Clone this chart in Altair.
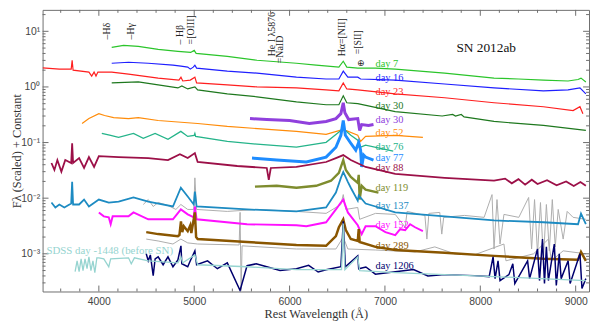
import altair as alt
import pandas as pd

# ---------------- spectra: rest wavelength (Å) and scaled flux ----------------
wl_d7 = [4135, 4259, 4414, 4622, 4829, 4963, 5000, 5020, 5347, 5658, 6072, 6279, 6517, 6563, 6600, 6715, 6901, 7108, 7626, 8144, 8400, 8662, 8920, 9025, 9056, 9107]
fx_d7 = [5.13, 5.57, 5.35, 4.73, 4.36, 4.18, 4.54, 4.01, 3.55, 3.02, 2.67, 2.46, 2.27, 2.90, 2.27, 2.18, 2.18, 2.09, 1.77, 1.44, 1.39, 1.33, 1.28, 1.36, 1.44, 1.23]

wl_d16 = [4135, 4311, 4518, 4777, 4861, 4932, 4959, 4990, 5007, 5025, 5347, 5658, 6072, 6383, 6517, 6563, 6611, 6715, 6745, 7108, 7626, 8144, 8662, 8920, 9045, 9107]
fx_d16 = [2.67, 2.78, 2.67, 2.46, 2.36, 2.27, 2.09, 2.27, 2.46, 2.18, 1.92, 1.77, 1.50, 1.39, 1.39, 1.92, 1.50, 1.50, 1.39, 1.33, 1.13, 0.96, 0.849, 0.885, 0.96, 0.75]

wl_d23 = [3410, 3586, 3710, 3720, 3730, 3896, 3925, 3950, 3970, 3990, 4135, 4311, 4622, 4840, 4861, 4880, 4959, 5007, 5025, 5347, 5658, 6072, 6383, 6517, 6563, 6600, 6715, 7108, 7626, 8144, 8662, 8973, 9045, 9076]
fx_d23 = [2.20, 2.09, 2.09, 3.02, 2.00, 1.85, 1.57, 1.85, 1.57, 1.85, 1.85, 1.70, 1.44, 1.33, 1.50, 1.28, 1.33, 1.50, 1.18, 1.09, 1.00, 0.96, 0.885, 0.849, 1.18, 0.921, 0.885, 0.751, 0.64, 0.52, 0.441, 0.375, 0.441, 0.331]

wl_d30 = [4135, 4414, 4622, 4829, 4870, 4932, 5007, 5036, 5347, 5658, 6072, 6383, 6517, 6563, 6600, 6715, 7108, 7600, 7710, 7740, 7800, 7830, 8144, 8662, 9107]
fx_d30 = [1.18, 1.23, 1.09, 0.96, 1.04, 0.921, 1.00, 0.885, 0.751, 0.665, 0.54, 0.479, 0.479, 0.692, 0.52, 0.50, 0.36, 0.30, 0.32, 0.30, 0.32, 0.29, 0.24, 0.203, 0.165]

wl_d30b = [5585, 5761, 6000, 6207, 6383, 6486, 6538, 6563, 6580, 6620, 6715, 6735, 6756, 6828, 6880]
fx_d30b = [0.270, 0.259, 0.249, 0.220, 0.239, 0.270, 0.331, 0.52, 0.344, 0.259, 0.270, 0.165, 0.211, 0.203, 0.211]

wl_d52 = [3824, 3896, 4000, 4060, 4155, 4311, 4414, 4622, 5036, 5347, 6072, 6383, 6563, 6715, 6745, 6797, 7108, 7398]
fx_d52 = [0.220, 0.270, 0.331, 0.306, 0.281, 0.270, 0.281, 0.249, 0.220, 0.195, 0.159, 0.140, 0.172, 0.135, 0.105, 0.129, 0.135, 0.124]

wl_d76 = [4031, 4124, 4207, 4363, 4466, 4590, 4725, 4860, 4932, 5000, 5007, 5015, 5347, 5658, 6072, 6383, 6486, 6563, 6642, 6715, 6745, 6797, 7087]
fx_d76 = [0.146, 0.135, 0.124, 0.146, 0.119, 0.146, 0.114, 0.159, 0.129, 0.135, 0.146, 0.129, 0.105, 0.0933, 0.0825, 0.101, 0.140, 0.179, 0.135, 0.110, 0.0825, 0.0895, 0.070]

wl_d77 = [5606, 5865, 6176, 6383, 6486, 6538, 6563, 6585, 6642, 6694, 6725, 6745, 6756, 6777, 6797, 6880]
fx_d77 = [0.0526, 0.0485, 0.0447, 0.0548, 0.0825, 0.135, 0.249, 0.135, 0.0972, 0.073, 0.101, 0.073, 0.0364, 0.0595, 0.0548, 0.0485]

wl_d88 = [3503, 3534, 3565, 3607, 3648, 3710, 3720, 3730, 3793, 3845, 3896, 3950, 4000, 4207, 4518, 4725, 4850, 4932, 5007, 5036, 5451, 5761, 5782, 5803, 6072, 6383, 6486, 6563, 6642, 6797, 7108, 7626, 8144, 8260, 8330, 8400, 8470, 8540, 8600, 8700, 8800, 8900, 8980, 9050, 9107]
fx_d88 = [0.0429, 0.0322, 0.0485, 0.0300, 0.0485, 0.0429, 0.0972, 0.0429, 0.0526, 0.0349, 0.0548, 0.0364, 0.0571, 0.0548, 0.0526, 0.0485, 0.0619, 0.0526, 0.0646, 0.0447, 0.0379, 0.0349, 0.0214, 0.0349, 0.0364, 0.0447, 0.0526, 0.0595, 0.0485, 0.0364, 0.0273, 0.0232, 0.0206, 0.0225, 0.0185, 0.0220, 0.0175, 0.0215, 0.0180, 0.0210, 0.0170, 0.0200, 0.0165, 0.0195, 0.0167]

wl_d119 = [5637, 5865, 6072, 6279, 6435, 6517, 6563, 6590, 6642, 6715, 6725, 6735, 6756, 6797, 6932]
fx_d119 = [0.0161, 0.0167, 0.0154, 0.0167, 0.0206, 0.0285, 0.0485, 0.0322, 0.0242, 0.0189, 0.0262, 0.00944, 0.0167, 0.0142, 0.0126]

wl_d137 = [3503, 3544, 3586, 3638, 3710, 3720, 3730, 3793, 3845, 3896, 4000, 4104, 4207, 4363, 4518, 4777, 4860, 4932, 4995, 5007, 5025, 5554, 6072, 6383, 6486, 6538, 6563, 6611, 6642, 6715, 6725, 6797, 6901, 7108, 7626, 8144, 8662, 9025, 9056, 9107]
fx_d137 = [0.00835, 0.00681, 0.0077, 0.00681, 0.0080, 0.0197, 0.0077, 0.0077, 0.00944, 0.00709, 0.00944, 0.00835, 0.0087, 0.0103, 0.0087, 0.00709, 0.0154, 0.0107, 0.0077, 0.0131, 0.00709, 0.00627, 0.00578, 0.00681, 0.0126, 0.0232, 0.0297, 0.0197, 0.0154, 0.00906, 0.0112, 0.0080, 0.00709, 0.00555, 0.00471, 0.00398, 0.00369, 0.0034, 0.0053, 0.0034]

wl_d152 = [4000, 4052, 4104, 4124, 4145, 4311, 4363, 4518, 4777, 4860, 4932, 4995, 5007, 5025, 5554, 6072, 6176, 6383, 6486, 6538, 6563, 6611, 6715, 6756, 6797, 6901, 7005, 7108, 7160, 7212, 7264, 7316, 7398]
fx_d152 = [0.00555, 0.00471, 0.00452, 0.0034, 0.00471, 0.00471, 0.00555, 0.00417, 0.00417, 0.00627, 0.00511, 0.00452, 0.00709, 0.00417, 0.0034, 0.00326, 0.00313, 0.00369, 0.00627, 0.00835, 0.00944, 0.00555, 0.00326, 0.00226, 0.00313, 0.00313, 0.00245, 0.00217, 0.00277, 0.00266, 0.0034, 0.0030, 0.00255]

wl_d289 = [4497, 4622, 4829, 4845, 4861, 4875, 4891, 4932, 4959, 4970, 5007, 5020, 5036, 5554, 6072, 6383, 6486, 6517, 6563, 6590, 6642, 6715, 6725, 6735, 6901, 7108, 7626, 8144, 8662, 9025, 9056, 9107]
fx_d289 = [0.00245, 0.00226, 0.00208, 0.00217, 0.00384, 0.00245, 0.00313, 0.00255, 0.00326, 0.00236, 0.00555, 0.0020, 0.00184, 0.00163, 0.00144, 0.00139, 0.00208, 0.0030, 0.00417, 0.00266, 0.00184, 0.0017, 0.00277, 0.00163, 0.00133, 0.00117, 0.00104, 0.000918, 0.000812, 0.000779, 0.00108, 0.000748]

wl_d1206 = [4497, 4518, 4540, 4570, 4590, 4622, 4674, 4725, 4777, 4829, 4861, 4870, 4932, 4959, 5007, 5025, 5140, 5243, 5347, 5481, 5554, 5650, 5761, 5900, 6072, 6200, 6300, 6383, 6538, 6563, 6585, 6715, 6725, 6800, 6900, 7108, 7300, 7450, 7626, 7937, 8093, 8134, 8155, 8186, 8207, 8300, 8341, 8362, 8496, 8517, 8600, 8621, 8652, 8673, 8693, 8714, 8776, 8797, 8828, 8848, 8921, 8942, 9045, 9066, 9107]
fx_d1206 = [0.0010, 0.000748, 0.000956, 0.000405, 0.000812, 0.000881, 0.000635, 0.000881, 0.000585, 0.000779, 0.00139, 0.000662, 0.000585, 0.000748, 0.00113, 0.000635, 0.000748, 0.000539, 0.000688, 0.000219, 0.00061, 0.00066, 0.000585, 0.00050, 0.000539, 0.00062, 0.00047, 0.000517, 0.000585, 0.00384, 0.000585, 0.000918, 0.000539, 0.00058, 0.00043, 0.000477, 0.00052, 0.00040, 0.000422, 0.000405, 0.000389, 0.000881, 0.000358, 0.000748, 0.00033, 0.000422, 0.000662, 0.000292, 0.000748, 0.000358, 0.00122, 0.00033, 0.00184, 0.000292, 0.00133, 0.00033, 0.0015, 0.000269, 0.0010, 0.000358, 0.000748, 0.000292, 0.0010, 0.000238, 0.000358]

wl_sdss = [3751, 3772, 3793, 3814, 3834, 3855, 3876, 3896, 3917, 3938, 3958, 3979, 4000, 4052, 4104, 4124, 4311, 4340, 4373, 4518, 4829, 4861, 4880, 5007, 5036, 5554, 6072, 6545, 6563, 6580, 6715, 6735, 7108, 8144, 9107]
fx_sdss = [0.000477, 0.000748, 0.000477, 0.000812, 0.000497, 0.000812, 0.000539, 0.000881, 0.000497, 0.000748, 0.000458, 0.000846, 0.000846, 0.000812, 0.000585, 0.000812, 0.000846, 0.000662, 0.000846, 0.000748, 0.000688, 0.000881, 0.000688, 0.000956, 0.000635, 0.000585, 0.000517, 0.000517, 0.0035, 0.000517, 0.000881, 0.0005, 0.000458, 0.000389, 0.00033]

wl_gray_a = [4466, 4518, 4570, 4622, 4725, 4808, 4860, 4932, 4995, 5007, 5025, 5347, 5658, 6072, 6383, 6538, 6563, 6590, 6715, 6735, 6901, 7108, 7212, 7233, 7419, 7440, 7461, 7575, 7596, 7616, 7834, 8040, 8123, 8144, 8175, 8207, 8248, 8404, 8507, 8538, 8569, 8600, 8631, 8662, 8693, 8724, 8755, 8786, 8817, 8869, 8911, 8973, 9107]
fx_gray_a = [0.0077, 0.00944, 0.00709, 0.00835, 0.00739, 0.00627, 0.0077, 0.00627, 0.00627, 0.0232, 0.00627, 0.00578, 0.00627, 0.00578, 0.00533, 0.0077, 0.0116, 0.00627, 0.00681, 0.00417, 0.00533, 0.00511, 0.0030, 0.00578, 0.0049, 0.00184, 0.00533, 0.00555, 0.00226, 0.00452, 0.0049, 0.00452, 0.0116, 0.00122, 0.00944, 0.0015, 0.00511, 0.00452, 0.0103, 0.00122, 0.00944, 0.0010, 0.00835, 0.000812, 0.0077, 0.00113, 0.00944, 0.00133, 0.00627, 0.00184, 0.00578, 0.00452, 0.00417]

wl_gray_b = [4497, 4622, 4777, 4860, 4932, 5036, 5471, 5481, 5492, 5502, 6072, 6486, 6563, 6611, 6901, 7316, 7523, 7730, 7937, 8248, 8269, 8559, 8714, 8745, 8869, 9107]
fx_gray_b = [0.00184, 0.0017, 0.0015, 0.00184, 0.00157, 0.0015, 0.00144, 0.00555, 0.000219, 0.00139, 0.00122, 0.00122, 0.0020, 0.00122, 0.00117, 0.00108, 0.00133, 0.0010, 0.000956, 0.0015, 0.000748, 0.0010, 0.00184, 0.000748, 0.00113, 0.0010]

# ---------------- labels ----------------
day_labels = ["day 7", "day 16", "day 23", "day 30", "day 30", "day 52", "day 76", "day 77", "day 88", "day 119", "day 137", "day 152", "day 289", "day 1206"]
day_label_wl = [6901, 6901, 6901, 6901, 6901, 6901, 6901, 6901, 6901, 6901, 6901, 6901, 6901, 6901]
day_label_fx = [2.56, 1.445, 0.815, 0.46, 0.259, 0.146, 0.0825, 0.0526, 0.035, 0.0154, 0.0071, 0.00326, 0.00138, 0.00061]

line_ids = ["–Hδ", "–Hγ", "– Hβ", "=[OIII]", "He I λ5876", "=NaID", "Hα=[NII]", "=[SII]"]
line_id_wl = [4085, 4333, 4852, 4968, 5812, 5900, 6549, 6715]
line_id_fx = [7.12, 7.12, 5.81, 5.81, 3.55, 2.67, 3.55, 3.86]

# axis tick values
x_major = [4000, 5000, 6000, 7000, 8000, 9000]
x_minor = [3600, 3800, 4200, 4400, 4600, 4800, 5200, 5400, 5600, 5800, 6200, 6400, 6600, 6800,
           7200, 7400, 7600, 7800, 8200, 8400, 8600, 8800]
y_major = [0.001, 0.01, 0.1, 1, 10]
y_minor = [0.0003, 0.0004, 0.0005, 0.0006, 0.0007, 0.0008, 0.0009,
           0.002, 0.003, 0.004, 0.005, 0.006, 0.007, 0.008, 0.009,
           0.02, 0.03, 0.04, 0.05, 0.06, 0.07, 0.08, 0.09,
           0.2, 0.3, 0.4, 0.5, 0.6, 0.7, 0.8, 0.9,
           2, 3, 4, 5, 6, 7, 8, 9, 20]

# ---------------- styling ----------------
series = [
    ("gray_a", wl_gray_a, fx_gray_a, "#adadad", 1.0),
    ("gray_b", wl_gray_b, fx_gray_b, "#adadad", 1.0),
    ("d7", wl_d7, fx_d7, "#2bc52b", 1.2),
    ("d16", wl_d16, fx_d16, "#1f1fff", 1.2),
    ("d23", wl_d23, fx_d23, "#ff1f1f", 1.2),
    ("d30", wl_d30, fx_d30, "#1e781e", 1.2),
    ("d30b", wl_d30b, fx_d30b, "#9040dd", 3.0),
    ("d52", wl_d52, fx_d52, "#ff8c0a", 1.2),
    ("d76", wl_d76, fx_d76, "#25b48a", 1.3),
    ("d77", wl_d77, fx_d77, "#1e8cff", 3.0),
    ("d88", wl_d88, fx_d88, "#9c1048", 1.8),
    ("d119", wl_d119, fx_d119, "#7e8c2e", 2.4),
    ("d137", wl_d137, fx_d137, "#1d8bc2", 1.8),
    ("d152", wl_d152, fx_d152, "#ff10ff", 2.0),
    ("d289", wl_d289, fx_d289, "#8a5600", 2.5),
    ("d1206", wl_d1206, fx_d1206, "#00006e", 1.5),
    ("sdss", wl_sdss, fx_sdss, "#96d4d0", 1.3),
]
label_colors = ["#2bc52b", "#1f1fff", "#ff1f1f", "#1e781e", "#9040dd", "#ff8c0a", "#25b48a",
                "#1e8cff", "#9c1048", "#7e8c2e", "#1d8bc2", "#ff10ff", "#8a5600", "#00006e"]

W, H = 553, 285
SERIF = "Liberation Serif"
SANS = "Liberation Sans"
FRAME = "#6e6e6e"

xs = alt.Scale(domain=[3410, 9140], nice=False, zero=False)
ys = alt.Scale(type="log", domain=[0.00021, 24.3], nice=False)

x_enc = alt.X("wl:Q", scale=xs,
              axis=alt.Axis(values=x_major, format="d", ticks=False, domain=False, grid=False,
                            labelFont=SANS, labelFontSize=10.5, labelColor="#444", labelPadding=5,
                            title="Rest Wavelength (Å)", titleFont=SERIF, titleFontSize=12.5,
                            titleFontWeight="normal", titleColor="#333", titleY=26,
                            titleBaseline="alphabetic"))
y_enc = alt.Y("fx:Q", scale=ys,
              axis=alt.Axis(values=y_major, ticks=False, domain=False, grid=False,
                            labelExpr="datum.value < 0.005 ? '10⁻³' : datum.value < 0.05 ? '10⁻²' : datum.value < 0.5 ? '10⁻¹' : datum.value < 5 ? '10⁰' : '10¹'",
                            labelFont=SANS, labelFontSize=10.5, labelColor="#444", labelPadding=3,
                            title="Fλ (Scaled) + Constant", titleFont=SERIF, titleFontSize=12.5,
                            titleFontWeight="normal", titleColor="#333", titleX=-26,
                            titleBaseline="middle"))

layers = []
for name, wl, fx, color, sw in series:
    df = pd.DataFrame({"wl": wl, "fx": fx})
    layers.append(alt.Chart(df).mark_line(color=color, strokeWidth=sw, clip=True,
                                          strokeJoin="miter").encode(x=x_enc, y=y_enc))

# inward ticks
xmaj = pd.DataFrame({"wl": x_major})
xmin = pd.DataFrame({"wl": x_minor})
ymaj = pd.DataFrame({"fx": y_major})
ymin = pd.DataFrame({"fx": y_minor})
tick_layers = [
    alt.Chart(xmaj).mark_rule(color=FRAME).encode(x=x_enc, y=alt.value(H), y2=alt.value(H - 6)),
    alt.Chart(xmaj).mark_rule(color=FRAME).encode(x=x_enc, y=alt.value(0), y2=alt.value(6)),
    alt.Chart(xmin).mark_rule(color=FRAME).encode(x=x_enc, y=alt.value(H), y2=alt.value(H - 3)),
    alt.Chart(xmin).mark_rule(color=FRAME).encode(x=x_enc, y=alt.value(0), y2=alt.value(3)),
    alt.Chart(ymaj).mark_rule(color=FRAME).encode(y=y_enc, x=alt.value(0), x2=alt.value(6)),
    alt.Chart(ymaj).mark_rule(color=FRAME).encode(y=y_enc, x=alt.value(W), x2=alt.value(W - 6)),
    alt.Chart(ymin).mark_rule(color=FRAME).encode(y=y_enc, x=alt.value(0), x2=alt.value(3)),
    alt.Chart(ymin).mark_rule(color=FRAME).encode(y=y_enc, x=alt.value(W), x2=alt.value(W - 3)),
]

lab_df = pd.DataFrame({"wl": day_label_wl, "fx": day_label_fx, "txt": day_labels, "col": label_colors})
lab_layer = alt.Chart(lab_df).mark_text(align="left", baseline="middle", font=SERIF, fontSize=10.5).encode(
    x=x_enc, y=y_enc, text="txt:N", color=alt.Color("col:N", scale=None))

id_df = pd.DataFrame({"wl": line_id_wl, "fx": line_id_fx, "txt": line_ids})
id_layer = alt.Chart(id_df).mark_text(angle=270, align="left", baseline="middle", font=SERIF,
                                      fontSize=10, color="#222").encode(x=x_enc, y=y_enc, text="txt:N")

misc_df = pd.DataFrame({"wl": [6745], "fx": [2.67], "txt": ["⊕"]})
misc_layer = alt.Chart(misc_df).mark_text(align="center", baseline="middle", font="DejaVu Sans",
                                          fontSize=9, color="#222").encode(x=x_enc, y=y_enc, text="txt:N")

sn_df = pd.DataFrame({"wl": [8062], "fx": [4.93], "txt": ["SN 2012ab"]})
sn_layer = alt.Chart(sn_df).mark_text(align="center", baseline="middle", font=SERIF,
                                      fontSize=13.5, color="#111").encode(x=x_enc, y=y_enc, text="txt:N")

sdss_df = pd.DataFrame({"wl": [3450], "fx": [0.00113], "txt": ["SDSS day -1448 (before SN)"]})
sdss_layer = alt.Chart(sdss_df).mark_text(align="left", baseline="middle", font=SERIF,
                                          fontSize=11, color="#96d4d0").encode(x=x_enc, y=y_enc, text="txt:N")

chart = alt.layer(*layers, *tick_layers, lab_layer, id_layer, misc_layer, sn_layer, sdss_layer).properties(
    width=W, height=H,
    autosize=alt.AutoSizeParams(type="none"),
    padding={"left": 35, "top": 0, "right": 1, "bottom": 31},
).configure_view(stroke=FRAME, strokeWidth=1).configure_axis(grid=False)

chart.save("out.html", embed_options={"renderer": "svg", "actions": False})
